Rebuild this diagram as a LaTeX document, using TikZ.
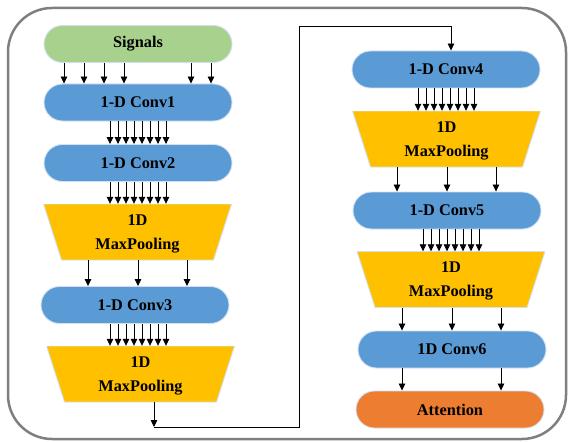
\documentclass[tikz,border=0pt]{standalone}
\usepackage{fontspec}
\setmainfont{Liberation Serif}
\usetikzlibrary{arrows.meta,calc}
\definecolor{cgreen}{HTML}{A9D18E}
\definecolor{cblue}{HTML}{5B9BD5}
\definecolor{cyellow}{HTML}{FFC000}
\definecolor{corange}{HTML}{ED7D31}
\definecolor{cedge}{HTML}{D2E0F0}
\definecolor{cframe}{HTML}{7F7F7F}
\begin{document}
\begin{tikzpicture}[x=1pt,y=-1pt,
  every node/.style={font=\bfseries\fontsize{16.3}{24}\selectfont, text=black},
  pill/.style={draw=cedge, line width=0.9pt, minimum width=188pt, minimum height=37pt,
    rounded corners=18.5pt, inner sep=0pt},
  pool/.style={minimum width=188pt, minimum height=56pt, inner sep=0pt, align=center, text depth=-4pt,
    path picture={
      \fill[cyellow,draw=cedge,line width=0.9pt] (path picture bounding box.north west) -- (path picture bounding box.north east)
        -- ([xshift=-18pt]path picture bounding box.south east) -- ([xshift=18pt]path picture bounding box.south west) -- cycle;}},
  arr/.style={line width=0.8pt, -{Triangle[length=7pt,width=6.5pt]}},
  link/.style={line width=0.8pt}]
\useasboundingbox (0,0) rectangle (569,441);
\draw[cframe, line width=2.5pt, rounded corners=44pt] (8,8) rectangle (566,439);

\node[pill, fill=cgreen] (sig) at (138,44) {Signals};
\node[pill, fill=cblue] (c1) at (138,102.5) {1-D Conv1};
\node[pill, fill=cblue] (c2) at (138,163) {1-D Conv2};
\node[pool] (mp1) at (137.5,232) {1D\\MaxPooling};
\node[pill, fill=cblue] (c3) at (135,305) {1-D Conv3};
\node[pool] (mp2) at (140.5,374) {1D\\MaxPooling};
\node[pill, fill=cblue] (c4) at (446,69.5) {1-D Conv4};
\node[pool] (mp3) at (446.5,139) {1D\\MaxPooling};
\node[pill, fill=cblue] (c5) at (447,210.5) {1-D Conv5};
\node[pool] (mp4) at (451,279.5) {1D\\MaxPooling};
\node[pill, fill=cblue] (c6) at (452,349.5) {1D Conv6};
\node[pill, fill=corange] (att) at (450,409.5) {Attention};

\foreach \x in {64,84,104,124,191,211}{
  \coordinate (t) at (\x,0); \draw[arr] (sig.south -| t) -- (c1.north -| t);}
\foreach \k in {0,...,7}{
  \coordinate (t) at (110+8*\k,0);
  \draw[arr] (c1.south -| t) -- (c2.north -| t);
  \draw[arr] (c2.south -| t) -- (mp1.north -| t);
  \draw[arr] (c3.south -| t) -- (mp2.north -| t);}
\foreach \x in {88,138,187}{
  \coordinate (t) at (\x,0); \draw[arr] (mp1.south -| t) -- (c3.north -| t);}
\foreach \k in {0,...,7}{
  \coordinate (t) at (418+8*\k,0); \draw[arr] (c4.south -| t) -- (mp3.north -| t);
  \coordinate (u) at (423+8*\k,0); \draw[arr] (c5.south -| u) -- (mp4.north -| u);}
\foreach \x in {397,447,496}{
  \coordinate (t) at (\x,0); \draw[arr] (mp3.south -| t) -- (c5.north -| t);}
\foreach \x in {402,452,501}{
  \coordinate (t) at (\x,0); \draw[arr] (mp4.south -| t) -- (c6.north -| t);}
\foreach \x in {402,501}{
  \coordinate (t) at (\x,0); \draw[arr] (c6.south -| t) -- (att.north -| t);}

\coordinate (turn) at (154,427);
\coordinate (p1) at (299,427);
\coordinate (p2) at (299,26);
\coordinate (p3) at (451,26);
\draw[arr] (mp2.south -| turn) -- (turn);
\draw[arr] (turn) -- (p1) -- (p2) -- (p3) -- (c4.north -| p3);
\end{tikzpicture}
\end{document}
